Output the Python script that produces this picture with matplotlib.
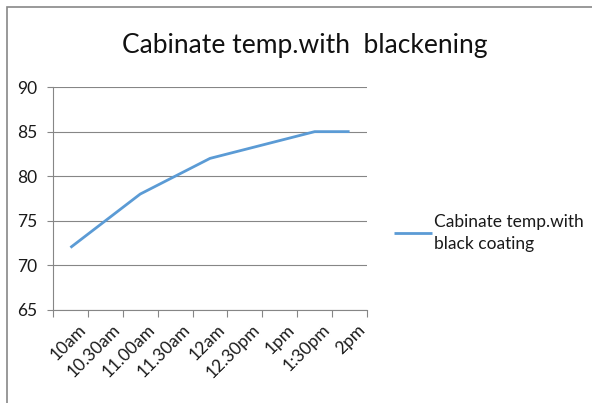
import matplotlib
matplotlib.use("Agg")
import matplotlib.pyplot as plt
import matplotlib.transforms as mtransforms
from matplotlib.patches import Rectangle
import numpy as np

times = ["10am", "10.30am", "11.00am", "11.30am", "12am", "12.30pm", "1pm", "1:30pm", "2pm"]
# readings only taken at some of the times, the rest are blank
temps = [72, None, 78, None, 82, None, None, 85, 85]
series_name = "Cabinate temp.with\nblack coating"

plt.rcParams["font.family"] = ["Lato", "DejaVu Sans"]

fig = plt.figure(figsize=(5.92, 4.03), dpi=100)
ax = fig.add_axes([0.0895, 0.2308, 0.5305, 0.5532])

xs = [i for i, t in enumerate(temps) if t is not None]
ys = [t for t in temps if t is not None]
ax.plot(xs, ys, color="#5B9BD5", linewidth=2.0, label=series_name,
        solid_capstyle="butt")

ax.set_xlim(-0.5, len(times) - 0.5)
ax.set_ylim(65, 90)
ax.set_yticks(np.arange(65, 91, 5))
ax.yaxis.grid(True, color="#868686", linewidth=0.8)
ax.set_axisbelow(True)

ax.set_xticks(range(len(times)))
ax.set_xticklabels(times, rotation=45, ha="right", rotation_mode="anchor")
ax.set_xticks(np.arange(-0.5, len(times), 1), minor=True)
ax.tick_params(axis="x", which="major", length=0, pad=8, labelsize=12.5, colors="#1a1a1a")
ax.tick_params(axis="x", which="minor", length=5, color="#868686", width=0.8)
ax.tick_params(axis="y", length=4, color="#868686", width=0.8, labelsize=12.5,
               labelcolor="#1a1a1a", pad=7)
shift = mtransforms.ScaledTranslation(7 / 100, 0, fig.dpi_scale_trans)
for lab in ax.get_xticklabels():
    lab.set_transform(lab.get_transform() + shift)

for side in ["top", "right"]:
    ax.spines[side].set_visible(False)
for side in ["left", "bottom"]:
    ax.spines[side].set_color("#868686")
    ax.spines[side].set_linewidth(0.8)

fig.text(305 / 592, 1 - 45 / 403, "Cabinate temp.with  blackening",
         ha="center", va="center", fontsize=19, color="#111111")

leg = fig.legend(loc="center left", bbox_to_anchor=(378 / 592, 1 - 233 / 403),
                 frameon=False, fontsize=12.5, handlelength=2.2, handletextpad=0.1)
for t in leg.get_texts():
    t.set_color("#1a1a1a")
    t.set_linespacing(1.5)

# chart border (cropped on the right and bottom)
fig.add_artist(Rectangle((7 / 592, -0.1), 1.2, 1 - 7 / 403 + 0.1,
                         transform=fig.transFigure, fill=False,
                         edgecolor="#888888", linewidth=1.2))

plt.savefig("out.png", dpi=100)
